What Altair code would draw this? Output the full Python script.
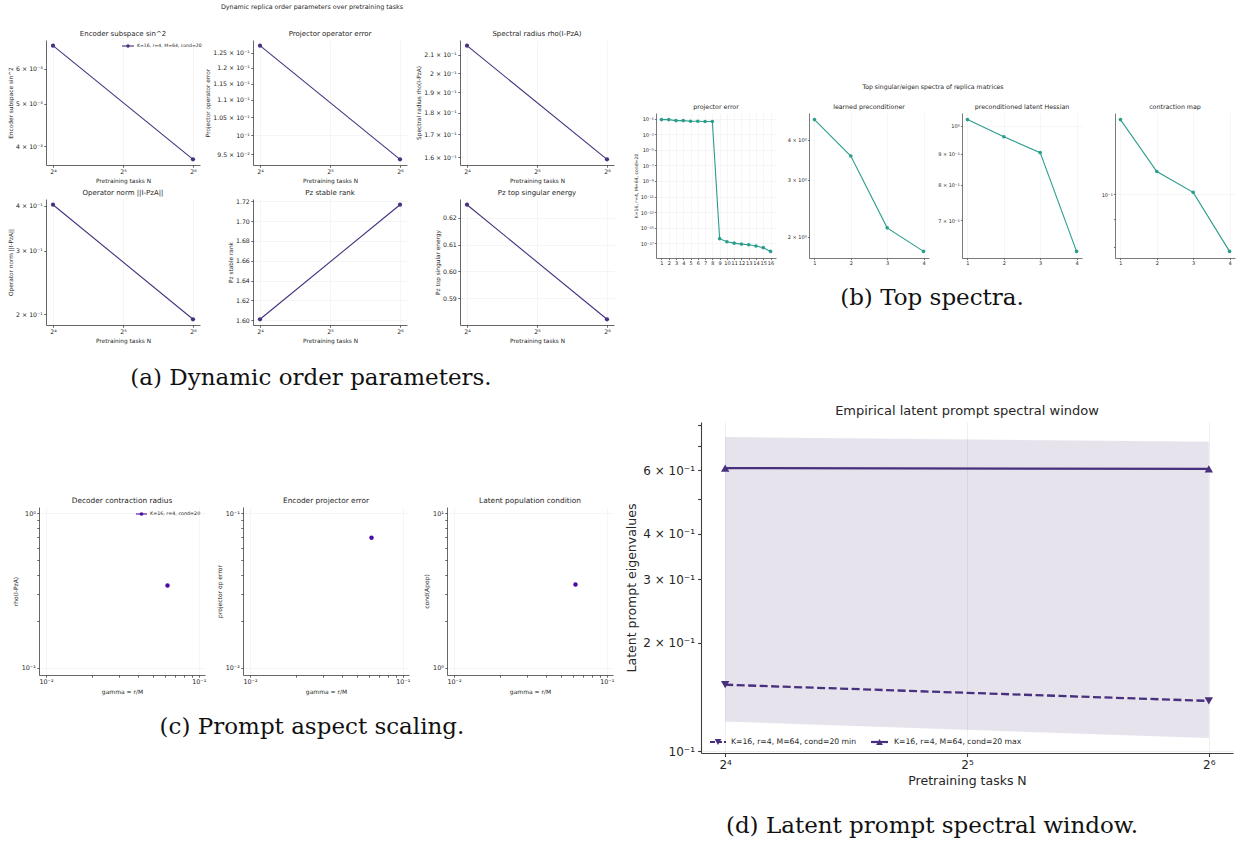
import altair as alt
import numpy as np
import pandas as pd

W, H = 1244, 843
SANS = "DejaVu Sans"
SERIF = "DejaVu Serif"
INK = "#262626"
SPINE = "#404040"
GRID = "#ebebeb"
PURPLE = "#47307e"
TEAL = "#2a9d8c"
VIOLET = "#4b0ca6"

# (a) dynamic replica order parameters at N = 16 and N = 64
N_TASKS = [16, 64]
enc_sin2 = [6.76e-3, 3.74e-3]
proj_op_err = [0.1274, 0.0937]
spec_radius = [0.2150, 0.1592]
op_norm = [0.403, 0.1937]
stable_rank = [1.601, 1.7165]
top_energy = [0.6249, 0.5821]

# (b) top singular / eigen spectra
idx16 = list(range(1, 17))
proj_err_spec = [0.074, 0.074, 0.055, 0.055, 0.045, 0.045, 0.042, 0.042,
                 4.0e-17, 1.6e-17, 1.07e-17, 8.0e-18, 6.7e-18, 4.5e-18, 2.8e-18, 9.3e-19]
idx4 = [1, 2, 3, 4]
precond_spec = [4.62, 3.56, 2.13, 1.80]
hessian_spec = [1.023, 0.959, 0.903, 0.622]
contraction_spec = [0.1377, 0.1103, 0.1009, 0.0784]

# (c) prompt aspect scaling, gamma = r/M
gamma = [4 / 64]
rho_decoder = [0.341]
enc_proj_err = [0.0695]
cond_pop = [3.47]

# (d) latent prompt spectral window
eig_min = [0.153, 0.138]
eig_max = [0.608, 0.605]
band_lo = [0.121, 0.109]
band_hi = [0.741, 0.719]

SUP = str.maketrans("-0123456789", "⁻⁰¹²³⁴⁵⁶⁷⁸⁹")


def sci(v):
    e = int(np.floor(np.log10(v) + 1e-9))
    m = round(v / 10 ** e, 3)
    if abs(m - 1) < 1e-9:
        return "10" + str(e).translate(SUP)
    return f"{m:g} × 10" + str(e).translate(SUP)


def pow2(v):
    return "2" + str(int(round(np.log2(v)))).translate(SUP)


def lab_expr(pairs):
    expr = "''"
    for v, lab in reversed(pairs):
        v = float(v)
        expr = f"abs(datum.value - ({v:.12g})) <= {abs(v) * 1e-6:.6g} ? '{lab}' : {expr}"
    return expr


def log_dom(vals, pad=0.05):
    lo, hi = np.log10(min(vals)), np.log10(max(vals))
    m = (hi - lo) * pad
    return [float(10 ** (lo - m)), float(10 ** (hi + m))]


def lin_dom(vals, pad=0.05):
    lo, hi = float(min(vals)), float(max(vals))
    m = (hi - lo) * pad
    return [lo - m, hi + m]


def main_axis(orient, offset, pairs, title, sty):
    return alt.Axis(
        orient=orient, offset=offset, values=[float(p[0]) for p in pairs],
        labelExpr=lab_expr(pairs), title=title, grid=False,
        labelFont=SANS, labelFontSize=sty["label"], labelColor=INK,
        labelPadding=sty["lpad"], labelOverlap=False, labelFlush=False, labelAngle=0,
        titleFont=SANS, titleFontSize=sty["title"], titleFontWeight="normal",
        titleColor=INK, titlePadding=sty["tpad"],
        tickSize=sty["tick"], tickColor=SPINE, tickWidth=sty["dw"],
        domainColor=SPINE, domainWidth=sty["dw"],
    )


def grid_axis(orient, offset, vals, sty):
    return alt.Axis(
        orient=orient, offset=offset, values=[float(v) for v in vals], grid=True,
        gridColor=GRID, gridWidth=sty["gw"], labels=False, ticks=False,
        domain=False, title=None,
    )


def panel(df, xf, yf, box, xsc, ysc, xt, yt, xg, yg, xtitle, ytitle, sty, marks):
    left, right, top, bottom = box
    xs = alt.Scale(range=[left, right], nice=False, **xsc)
    ys = alt.Scale(range=[bottom, top], nice=False, **ysc)
    gx = grid_axis("top", 0, xg, sty) if xg else None
    gy = grid_axis("left", -left, yg, sty) if yg else None
    out = [alt.Chart(df).mark_point(opacity=0).encode(
        x=alt.X(xf, type="quantitative", scale=xs, axis=gx),
        y=alt.Y(yf, type="quantitative", scale=ys, axis=gy))]
    ax = main_axis("bottom", bottom - H, xt, xtitle, sty)
    ay = main_axis("left", -left, yt, ytitle, sty)
    for i, (ch, f, extra) in enumerate(marks):
        enc = dict(
            x=alt.X(xf, type="quantitative", scale=xs, axis=ax if i == 0 else None),
            y=alt.Y(f, type="quantitative", scale=ys, axis=ay if i == 0 else None))
        enc.update(extra)
        out.append(ch.encode(**enc))
    return out


def line_pts(df, color, width, size, yf="v"):
    return [(alt.Chart(df).mark_line(color=color, strokeWidth=width), yf, {}),
            (alt.Chart(df).mark_point(filled=True, color=color, size=size, opacity=1), yf, {})]


ONE = alt.Data(values=[{}])


def text(s, x, y, size, font=SANS, color=INK, angle=0, align="center"):
    kw = {"angle": angle} if angle else {}
    return alt.Chart(ONE).mark_text(
        text=s, font=font, fontSize=size, color=color, align=align,
        baseline="middle", **kw).encode(x=alt.value(x), y=alt.value(y))


def glyph(x0, x1, y, color, shape, size, width, dash=None):
    kw = {"strokeDash": dash} if dash else {}
    rule = alt.Chart(ONE).mark_rule(color=color, strokeWidth=width, **kw).encode(
        x=alt.value(x0), x2=alt.value(x1), y=alt.value(y))
    pt = alt.Chart(ONE).mark_point(shape=shape, filled=True, size=size, color=color,
                                   opacity=1).encode(x=alt.value((x0 + x1) / 2), y=alt.value(y))
    return [rule, pt]


def caption(s, x, y):
    return text(s, x, y, 23, font=SERIF, color="#111")


STY_A = dict(label=6.2, title=5.8, tick=2.2, lpad=1.5, tpad=2.5, dw=0.8, gw=0.5)
STY_B = dict(label=5.0, title=4.6, tick=1.6, lpad=1.2, tpad=2, dw=0.7, gw=0.45)
STY_C = dict(label=6.4, title=6.0, tick=2.2, lpad=1.5, tpad=3, dw=0.8, gw=0.5)
STY_D = dict(label=12, title=12.5, tick=3.5, lpad=3, tpad=4, dw=1.1, gw=0.8)

layers = []

# ---------------- (a) ----------------
N_dom = log_dom(N_TASKS)
x_log2 = dict(type="log", base=2, domain=N_dom)
xt_N = [(v, pow2(v)) for v in (16, 32, 64)]
xg_N = [16, 32, 64]
cols_a = [(46, 200), (253, 407), (460, 614)]
rows_a = [(40, 165), (199, 325)]
a_specs = [
    (enc_sin2, "Encoder subspace sin^2", "log", [4e-3, 5e-3, 6e-3], []),
    (proj_op_err, "Projector operator error", "log",
     [0.095, 0.1, 0.105, 0.11, 0.115, 0.12, 0.125], [0.1]),
    (spec_radius, "Spectral radius rho(I-PzA)", "log",
     [0.16, 0.17, 0.18, 0.19, 0.2, 0.21], []),
    (op_norm, "Operator norm ||I-PzA||", "log", [0.2, 0.3, 0.4], []),
    (stable_rank, "Pz stable rank", "linear",
     [1.60, 1.62, 1.64, 1.66, 1.68, 1.70, 1.72], None),
    (top_energy, "Pz top singular energy", "linear", [0.59, 0.60, 0.61, 0.62], None),
]
for k, (vals, name, kind, ticks, grid) in enumerate(a_specs):
    left, right = cols_a[k % 3]
    top, bottom = rows_a[k // 3]
    df = pd.DataFrame({"N": N_TASKS, "v": vals})
    if kind == "log":
        ysc = dict(type="log", domain=log_dom(vals))
        yt = [(t, sci(t)) for t in ticks]
        yg = grid
    else:
        ysc = dict(type="linear", domain=lin_dom(vals), zero=False)
        yt = [(t, f"{t:.2f}") for t in ticks]
        yg = ticks
    layers += panel(df, "N", "v", (left, right, top, bottom), x_log2, ysc, xt_N, yt,
                    xg_N, yg, "Pretraining tasks N", name, STY_A,
                    line_pts(df, PURPLE, 1.1, 18))
    layers.append(text(name, (left + right) / 2, top - 6, 7))

layers.append(text("Dynamic replica order parameters over pretraining tasks", 312, 7, 6.4))
layers += glyph(122, 134, 46, PURPLE, "circle", 12, 1.1)
layers.append(text("K=16, r=4, M=64, cond=20", 137, 46, 4.6, align="left"))
layers.append(caption("(a) Dynamic order parameters.", 311, 378))

# ---------------- (b) ----------------
top_b, bottom_b = 113, 258
b_specs = [
    ((656, 776), idx16, proj_err_spec, "projector error",
     [(10.0 ** -e, sci(10.0 ** -e)) for e in range(1, 18, 2)],
     [10.0 ** -e for e in range(1, 18, 2)], "K=16, r=4, M=64, cond=20"),
    ((809, 929), idx4, precond_spec, "learned preconditioner",
     [(t, sci(t)) for t in (2.0, 3.0, 4.0)], [], None),
    ((962, 1082), idx4, hessian_spec, "preconditioned latent Hessian",
     [(t, sci(t)) for t in (0.7, 0.8, 0.9, 1.0)], [1.0], None),
    ((1115, 1235), idx4, contraction_spec, "contraction map",
     [(0.08, ""), (0.09, ""), (0.1, sci(0.1))], [0.1], None),
]
for (left, right), idx, vals, name, yt, yg, ytitle in b_specs:
    df = pd.DataFrame({"i": idx, "v": vals})
    xsc = dict(type="linear", domain=lin_dom(idx), zero=False)
    ysc = dict(type="log", domain=log_dom(vals))
    xt = [(i, str(i)) for i in idx]
    layers += panel(df, "i", "v", (left, right, top_b, bottom_b), xsc, ysc, xt, yt,
                    idx, yg, None, ytitle, STY_B, line_pts(df, TEAL, 1.1, 13))
    layers.append(text(name, (left + right) / 2, 107, 6.3))

layers.append(text("Top singular/eigen spectra of replica matrices", 933, 87, 6.2))
layers.append(caption("(b) Top spectra.", 932, 298))

# ---------------- (c) ----------------
top_c, bottom_c = 507, 675
gx_dom = [0.009, 0.11]
c_specs = [
    ((39, 205), rho_decoder, "Decoder contraction radius", "rho(I-PzA)", [0.09, 1.1], -1),
    ((243, 409), enc_proj_err, "Encoder projector error", "projector op error", [0.009, 0.11], -2),
    ((447, 613), cond_pop, "Latent population condition", "cond(Apop)", [0.9, 11.0], 0),
]
xt_c = [(0.01, sci(0.01))] + [(m * 0.01, "") for m in range(2, 10)] + [(0.1, sci(0.1))]
for (left, right), vals, name, ytitle, ydom, e in c_specs:
    df = pd.DataFrame({"g": gamma, "v": vals})
    base = 10.0 ** e
    yt = [(base, sci(base))] + [(m * base, "") for m in range(2, 10)] + [(10 * base, sci(10 * base))]
    layers += panel(df, "g", "v", (left, right, top_c, bottom_c),
                    dict(type="log", domain=gx_dom), dict(type="log", domain=ydom),
                    xt_c, yt, [0.01, 0.1], [base, 10 * base], "gamma = r/M", ytitle, STY_C,
                    [(alt.Chart(df).mark_point(filled=True, color=VIOLET, size=20, opacity=1), "v", {})])
    layers.append(text(name, (left + right) / 2, 501, 7.4))

layers += glyph(136, 147, 514, VIOLET, "circle", 13, 1.1)
layers.append(text("K=16, r=4, cond=20", 150, 514, 4.8, align="left"))
layers.append(caption("(c) Prompt aspect scaling.", 312, 727))

# ---------------- (d) ----------------
df_d = pd.DataFrame({"N": N_TASKS, "lo": band_lo, "hi": band_hi, "mn": eig_min, "mx": eig_max})
yd_dom = log_dom(band_lo + band_hi)
yt_d = [(0.1, sci(0.1)), (0.2, sci(0.2)), (0.3, sci(0.3)), (0.4, sci(0.4)),
        (0.5, ""), (0.6, sci(0.6)), (0.7, ""), (0.8, "")]
d_marks = [
    (alt.Chart(df_d).mark_area(color=PURPLE, opacity=0.13, stroke=PURPLE,
                               strokeOpacity=0.08, strokeWidth=1), "lo", {"y2": alt.Y2("hi")}),
    (alt.Chart(df_d).mark_line(color=PURPLE, strokeWidth=2.3, strokeDash=[8, 3.5]), "mn", {}),
    (alt.Chart(df_d).mark_point(shape="triangle-down", filled=True, color=PURPLE,
                                size=70, opacity=1), "mn", {}),
    (alt.Chart(df_d).mark_line(color=PURPLE, strokeWidth=2.3), "mx", {}),
    (alt.Chart(df_d).mark_point(shape="triangle-up", filled=True, color=PURPLE,
                                size=70, opacity=1), "mx", {}),
]
layers += panel(df_d, "N", "hi", (701, 1233, 422, 753), x_log2,
                dict(type="log", domain=yd_dom), xt_N, yt_d, xg_N, [0.1],
                "Pretraining tasks N", "Latent prompt eigenvalues", STY_D, d_marks)
layers.append(text("Empirical latent prompt spectral window", 967, 411, 13))
layers += glyph(710, 726, 742, PURPLE, "triangle-down", 45, 2.2, dash=[5, 2])
layers.append(text("K=16, r=4, M=64, cond=20 min", 731, 742, 7.7, align="left"))
layers += glyph(871, 888, 742, PURPLE, "triangle-up", 45, 2.2)
layers.append(text("K=16, r=4, M=64, cond=20 max", 894, 742, 7.7, align="left"))
layers.append(caption("(d) Latent prompt spectral window.", 932, 826))

chart = (
    alt.layer(*layers)
    .resolve_scale(x="independent", y="independent")
    .resolve_axis(x="independent", y="independent")
    .properties(width=W, height=H, padding=0, background="white",
                autosize=alt.AutoSizeParams(type="none"))
    .configure_view(stroke=None)
)

chart.save("out.html", embed_options={"renderer": "svg", "actions": False})
